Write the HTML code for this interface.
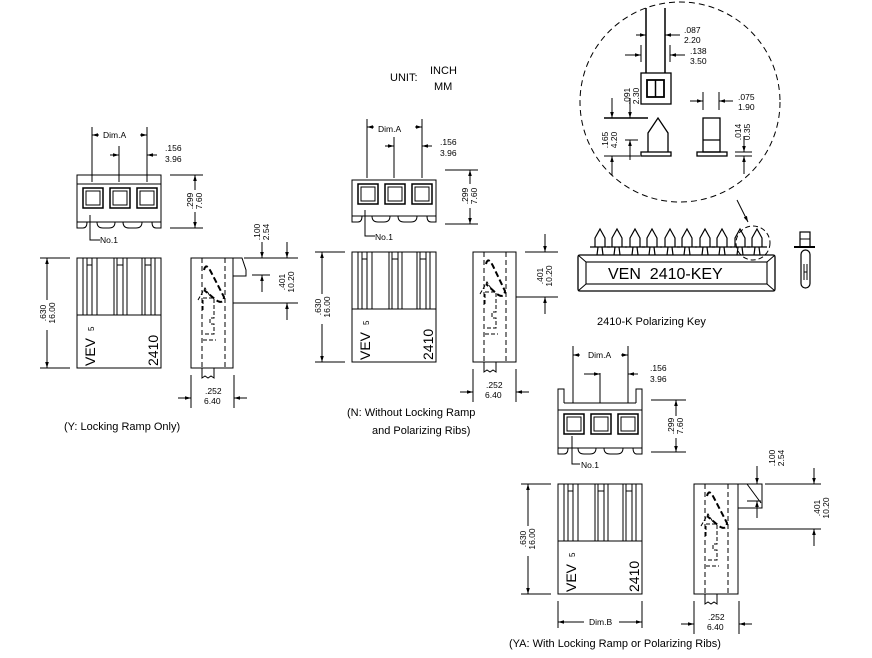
<!DOCTYPE html>
<html><head><meta charset="utf-8"><style>
html,body{margin:0;padding:0;background:#fff}
svg{display:block}
text{font-family:"Liberation Sans",sans-serif;fill:#000}
.d{font-size:8.5px}
</style></head><body>
<svg width="872" height="658" viewBox="0 0 872 658" xmlns="http://www.w3.org/2000/svg">
<defs>
<marker id="a" viewBox="0 0 10 10" refX="10" refY="5" markerWidth="6" markerHeight="6" orient="auto-start-reverse"><path d="M0,2 L10,5 L0,8z" fill="#000"/></marker>
</defs>
<g fill="none" stroke="#000" stroke-width="1">

<g id="s1">
<path d="M77,175 H161 V222 H77 Z"/>
<line x1="77" y1="184" x2="161" y2="184"/>
<path d="M77,222 V228 H83 Q87,228 87,222 M97,222 Q97,228 103,228 H109 Q115,228 115,222 M123,222 Q123,228 129,228 H136 Q142,228 142,222 M152,222 Q152,228 156,228 H161 V222"/>
<rect x="83" y="188" width="20" height="20" stroke-width="1.5"/><rect x="86" y="191" width="14" height="14"/>
<rect x="110" y="188" width="20" height="20" stroke-width="1.5"/><rect x="113" y="191" width="14" height="14"/>
<rect x="137" y="188" width="20" height="20" stroke-width="1.5"/><rect x="140" y="191" width="14" height="14"/>
<line x1="92" y1="127" x2="92" y2="182"/><line x1="119" y1="146" x2="119" y2="182"/><line x1="147" y1="127" x2="147" y2="182"/>
<line x1="92" y1="135" x2="99" y2="135" marker-start="url(#a)"/><line x1="140" y1="135" x2="147" y2="135" marker-end="url(#a)"/>
<line x1="110" y1="155" x2="119" y2="155" marker-end="url(#a)"/><line x1="147" y1="155" x2="157" y2="155" marker-start="url(#a)"/>
<line x1="170" y1="175" x2="203" y2="175"/><line x1="170" y1="228" x2="203" y2="228"/>
<line x1="195" y1="190" x2="195" y2="175" marker-end="url(#a)"/><line x1="195" y1="212" x2="195" y2="228" marker-end="url(#a)"/>
<path d="M90,215 V240 H100"/>
<rect x="77" y="258" width="84" height="110"/>
<line x1="77" y1="315" x2="161" y2="315"/>
<path d="M83,258V315M87,258V315M92,258V315M97,258V315M114,258V315M117,258V315M123,258V315M127,258V315M142,258V315M145,258V315M151,258V315M155,258V315M87,265H92M117,265H123M145,265H151"/>
<line x1="40" y1="258" x2="70" y2="258"/><line x1="40" y1="368" x2="70" y2="368"/>
<line x1="47" y1="300" x2="47" y2="258" marker-end="url(#a)"/><line x1="47" y1="330" x2="47" y2="368" marker-end="url(#a)"/>
<rect x="191" y="258" width="42" height="110"/>
<path d="M233,258 H242 L246,270 L246,276 H233"/>
<line x1="202" y1="258" x2="202" y2="368" stroke-dasharray="5,3"/>
<line x1="225" y1="258" x2="225" y2="368" stroke-dasharray="5,3"/>
<path d="M204,270 Q206,262 211,272 L224,297 Q223,305 216,300 L204,290" stroke-width="2" stroke-dasharray="6,3"/>
<path d="M198,300 L205,288 L210,296 M203,310 V298 H214 V318 H210 V324 H214 V334 H204 M203,340 H216" stroke-width="1" stroke-dasharray="4,2"/>
<path d="M202,368 V378 L205,376 L208,378 L211,376 L214,378 V368"/>
<line x1="244" y1="258" x2="298" y2="258"/><line x1="252" y1="275" x2="270" y2="275"/><line x1="233" y1="303" x2="298" y2="303"/>
<line x1="262" y1="242" x2="262" y2="258" marker-end="url(#a)"/><line x1="262" y1="292" x2="262" y2="275" marker-end="url(#a)"/>
<line x1="287" y1="242" x2="287" y2="258" marker-end="url(#a)"/><line x1="287" y1="320" x2="287" y2="303" marker-end="url(#a)"/>
<line x1="191" y1="375" x2="191" y2="408"/><line x1="234" y1="375" x2="234" y2="408"/>
<line x1="178" y1="398" x2="191" y2="398" marker-end="url(#a)"/><line x1="247" y1="398" x2="234" y2="398" marker-end="url(#a)"/>
</g>

<g transform="translate(275,-6)">
<path d="M77,186 H161 V222 H77 Z"/>
<path d="M77,222 V228 H83 Q87,228 87,222 M97,222 Q97,228 103,228 H109 Q115,228 115,222 M123,222 Q123,228 129,228 H136 Q142,228 142,222 M152,222 Q152,228 156,228 H161 V222"/>
<rect x="83" y="190" width="20" height="20" stroke-width="1.5"/><rect x="86" y="193" width="14" height="14"/>
<rect x="110" y="190" width="20" height="20" stroke-width="1.5"/><rect x="113" y="193" width="14" height="14"/>
<rect x="137" y="190" width="20" height="20" stroke-width="1.5"/><rect x="140" y="193" width="14" height="14"/>
<line x1="92" y1="125" x2="92" y2="184"/><line x1="119" y1="143" x2="119" y2="184"/><line x1="147" y1="125" x2="147" y2="184"/>
<line x1="92" y1="133" x2="99" y2="133" marker-start="url(#a)"/><line x1="140" y1="133" x2="147" y2="133" marker-end="url(#a)"/>
<line x1="110" y1="152" x2="119" y2="152" marker-end="url(#a)"/><line x1="147" y1="152" x2="157" y2="152" marker-start="url(#a)"/>
<line x1="170" y1="176" x2="203" y2="176"/><line x1="170" y1="230" x2="203" y2="230"/>
<line x1="195" y1="190" x2="195" y2="176" marker-end="url(#a)"/><line x1="195" y1="214" x2="195" y2="230" marker-end="url(#a)"/>
<path d="M90,216 V242 H100"/>
<rect x="77" y="258" width="84" height="110"/>
<line x1="77" y1="315" x2="161" y2="315"/>
<path d="M83,258V315M87,258V315M92,258V315M97,258V315M114,258V315M117,258V315M123,258V315M127,258V315M142,258V315M145,258V315M151,258V315M155,258V315M87,265H92M117,265H123M145,265H151"/>
<line x1="40" y1="258" x2="70" y2="258"/><line x1="40" y1="368" x2="70" y2="368"/>
<line x1="47" y1="300" x2="47" y2="258" marker-end="url(#a)"/><line x1="47" y1="330" x2="47" y2="368" marker-end="url(#a)"/>
<rect x="198" y="258" width="43" height="110"/>
<line x1="209" y1="258" x2="209" y2="368" stroke-dasharray="5,3"/>
<line x1="231" y1="258" x2="231" y2="368" stroke-dasharray="5,3"/>
<path d="M211,270 Q213,262 218,272 L230,297 Q229,305 222,300 L211,290" stroke-width="2" stroke-dasharray="6,3"/>
<path d="M205,300 L212,288 L217,296 M210,310 V298 H221 V318 H217 V324 H221 V334 H211 M210,340 H223" stroke-dasharray="4,2"/>
<path d="M209,368 V378 L212,376 L215,378 L218,376 L221,378 V368"/>
<line x1="250" y1="258" x2="283" y2="258"/><line x1="241" y1="303" x2="283" y2="303"/>
<line x1="270" y1="240" x2="270" y2="258" marker-end="url(#a)"/><line x1="270" y1="320" x2="270" y2="303" marker-end="url(#a)"/>
<line x1="198" y1="375" x2="198" y2="408"/><line x1="241" y1="375" x2="241" y2="408"/>
<line x1="185" y1="398" x2="198" y2="398" marker-end="url(#a)"/><line x1="254" y1="398" x2="241" y2="398" marker-end="url(#a)"/>
</g>

<g transform="translate(481,226)">
<path d="M77,184 V163 H83 V177 M155,177 V163 H161 V184"/>
<path d="M77,184 H161 V222 H77 Z"/>
<line x1="83" y1="177" x2="155" y2="177"/>
<path d="M77,222 V228 H83 Q87,228 87,222 M97,222 Q97,228 103,228 H109 Q115,228 115,222 M123,222 Q123,228 129,228 H136 Q142,228 142,222 M152,222 Q152,228 156,228 H161 V222"/>
<rect x="83" y="188" width="20" height="20" stroke-width="1.5"/><rect x="86" y="191" width="14" height="14"/>
<rect x="110" y="188" width="20" height="20" stroke-width="1.5"/><rect x="113" y="191" width="14" height="14"/>
<rect x="137" y="188" width="20" height="20" stroke-width="1.5"/><rect x="140" y="191" width="14" height="14"/>
<line x1="92" y1="120" x2="92" y2="177"/><line x1="119" y1="147" x2="119" y2="177"/><line x1="147" y1="120" x2="147" y2="177"/>
<line x1="92" y1="129" x2="99" y2="129" marker-start="url(#a)"/><line x1="140" y1="129" x2="147" y2="129" marker-end="url(#a)"/>
<line x1="103" y1="148" x2="119" y2="148" marker-end="url(#a)"/><line x1="147" y1="148" x2="157" y2="148" marker-start="url(#a)"/>
<line x1="170" y1="174" x2="205" y2="174"/><line x1="170" y1="226" x2="205" y2="226"/>
<line x1="195" y1="190" x2="195" y2="174" marker-end="url(#a)"/><line x1="195" y1="212" x2="195" y2="226" marker-end="url(#a)"/>
<path d="M91,210 V238 H99"/>
<rect x="77" y="258" width="84" height="110"/>
<line x1="77" y1="315" x2="161" y2="315"/>
<path d="M83,258V315M87,258V315M92,258V315M97,258V315M114,258V315M117,258V315M123,258V315M127,258V315M142,258V315M145,258V315M151,258V315M155,258V315M87,265H92M117,265H123M145,265H151"/>
<line x1="40" y1="258" x2="70" y2="258"/><line x1="40" y1="368" x2="70" y2="368"/>
<line x1="47" y1="300" x2="47" y2="258" marker-end="url(#a)"/><line x1="47" y1="330" x2="47" y2="368" marker-end="url(#a)"/>
<line x1="77" y1="375" x2="77" y2="402"/><line x1="161" y1="375" x2="161" y2="402"/>
<line x1="103" y1="396" x2="77" y2="396" marker-end="url(#a)"/><line x1="138" y1="396" x2="161" y2="396" marker-end="url(#a)"/>
<rect x="213" y="258" width="44" height="110"/>
<path d="M257,258 H281 V282 H257"/><path d="M266,258 L280,277"/>
<line x1="224" y1="258" x2="224" y2="368" stroke-dasharray="5,3"/>
<line x1="247" y1="258" x2="247" y2="368" stroke-dasharray="5,3"/>
<path d="M226,270 Q228,262 233,272 L246,297 Q245,305 238,300 L226,290" stroke-width="2" stroke-dasharray="6,3"/>
<path d="M220,300 L227,288 L232,296 M225,310 V298 H236 V318 H232 V324 H236 V334 H226 M225,340 H238" stroke-dasharray="4,2"/>
<path d="M224,368 V378 L227,376 L230,378 L233,376 L236,378 V368"/>
<line x1="284" y1="258" x2="340" y2="258"/><line x1="266" y1="275" x2="280" y2="275"/><line x1="257" y1="303" x2="340" y2="303"/>
<line x1="276" y1="240" x2="276" y2="258" marker-end="url(#a)"/><line x1="276" y1="292" x2="276" y2="275" marker-end="url(#a)"/>
<line x1="333" y1="242" x2="333" y2="258" marker-end="url(#a)"/><line x1="333" y1="320" x2="333" y2="303" marker-end="url(#a)"/>
<line x1="213" y1="375" x2="213" y2="408"/><line x1="258" y1="375" x2="258" y2="408"/>
<line x1="200" y1="398" x2="213" y2="398" marker-end="url(#a)"/><line x1="271" y1="398" x2="258" y2="398" marker-end="url(#a)"/>
</g>

<circle cx="680" cy="102" r="100" stroke-dasharray="6,4"/>
<circle cx="753" cy="243" r="17" stroke-dasharray="5,3"/>
<line x1="737" y1="200" x2="748" y2="222" marker-end="url(#a)"/>
<line x1="646" y1="8" x2="646" y2="73" stroke-width="1.5"/><line x1="665" y1="8" x2="665" y2="73" stroke-width="1.5"/>
<line x1="636" y1="35" x2="646" y2="35" marker-end="url(#a)"/><line x1="680" y1="35" x2="665" y2="35" marker-end="url(#a)"/>
<line x1="641" y1="45" x2="641" y2="62"/><line x1="670" y1="45" x2="670" y2="62"/>
<line x1="625" y1="55" x2="641" y2="55" marker-end="url(#a)"/><line x1="685" y1="55" x2="670" y2="55" marker-end="url(#a)"/>
<rect x="641" y="73" width="30" height="31" stroke-width="1.3"/>
<rect x="647" y="80" width="17" height="17" stroke-width="1.8"/><line x1="655.5" y1="80" x2="655.5" y2="97" stroke-width="1.5"/>
<line x1="604" y1="118" x2="648" y2="118" stroke-width="1.5"/>
<line x1="612" y1="98" x2="612" y2="118" marker-end="url(#a)"/><line x1="630" y1="98" x2="630" y2="118" marker-end="url(#a)"/>
<line x1="625" y1="140" x2="638" y2="140"/>
<line x1="630" y1="160" x2="630" y2="140" marker-end="url(#a)"/>
<line x1="612" y1="175" x2="612" y2="156" marker-end="url(#a)"/><line x1="604" y1="156" x2="640" y2="156"/>
<path d="M648,152 V133 L658,118 L668,133 V152" stroke-width="1.3"/>
<rect x="641" y="152" width="30" height="4" stroke-width="1.3"/>
<rect x="703" y="118" width="17" height="34" stroke-width="1.3"/><line x1="703" y1="140" x2="720" y2="140" stroke-width="1.3"/>
<rect x="697" y="152" width="30" height="4" stroke-width="1.3"/>
<line x1="703" y1="92" x2="703" y2="110"/><line x1="719" y1="92" x2="719" y2="110"/>
<line x1="690" y1="101" x2="703" y2="101" marker-end="url(#a)"/><line x1="733" y1="101" x2="719" y2="101" marker-end="url(#a)"/>
<line x1="735" y1="152" x2="752" y2="152"/><line x1="735" y1="156" x2="752" y2="156"/>
<line x1="744" y1="136" x2="744" y2="152" marker-end="url(#a)"/><line x1="744" y1="174" x2="744" y2="156" marker-end="url(#a)"/>
<rect x="578" y="255" width="197" height="36" rx="2" stroke-width="1.3"/>
<rect x="586" y="262" width="181" height="22" stroke-width="1.1"/>
<path d="M578,255 L586,262 M775,255 L767,262 M578,291 L586,284 M775,291 L767,284"/>
<g stroke-width="1.2">
<path d="M595,247 V238 L600,229 L605,238 V247 M590,247 H610 M598,247 L597,255 M602,247 L603,255"/>
<path d="M612,247 V238 L617,229 L622,238 V247 M607,247 H627 M615,247 L614,255 M619,247 L620,255"/>
<path d="M630,247 V238 L635,229 L640,238 V247 M625,247 H645 M633,247 L632,255 M637,247 L638,255"/>
<path d="M647,247 V238 L652,229 L657,238 V247 M642,247 H662 M650,247 L649,255 M654,247 L655,255"/>
<path d="M665,247 V238 L670,229 L675,238 V247 M660,247 H680 M668,247 L667,255 M672,247 L673,255"/>
<path d="M682,247 V238 L687,229 L692,238 V247 M677,247 H697 M685,247 L684,255 M689,247 L690,255"/>
<path d="M700,247 V238 L705,229 L710,238 V247 M695,247 H715 M703,247 L702,255 M707,247 L708,255"/>
<path d="M717,247 V238 L722,229 L727,238 V247 M712,247 H732 M720,247 L719,255 M724,247 L725,255"/>
<path d="M735,247 V238 L740,229 L745,238 V247 M730,247 H750 M738,247 L737,255 M742,247 L743,255"/>
<path d="M752,247 V238 L757,229 L762,238 V247 M747,247 H767 M755,247 L754,255 M759,247 L760,255"/>
</g>
<rect x="800" y="232" width="10" height="15" stroke-width="1.2"/><line x1="800" y1="239" x2="810" y2="239"/>
<line x1="794" y1="247" x2="815" y2="247" stroke-width="2"/>
<rect x="801" y="250" width="9" height="38" rx="4.5" stroke-width="1.2"/>
<path d="M804,264 V280 M807,264 V280 M804,272 H807"/>
</g>

<g class="d">
<text x="103" y="138" font-size="8.5">Dim.A</text>
<text x="165" y="151" font-size="8.5">.156</text><text x="165" y="162" font-size="8.5">3.96</text>
<text transform="translate(193,201) rotate(-90)" text-anchor="middle" font-size="8.5">.299</text>
<text transform="translate(202,201) rotate(-90)" text-anchor="middle" font-size="8.5">7.60</text>
<text x="100" y="243" font-size="8.5">No.1</text>
<text transform="translate(46,313) rotate(-90)" text-anchor="middle" font-size="8.5">.630</text>
<text transform="translate(55,313) rotate(-90)" text-anchor="middle" font-size="8.5">16.00</text>
<text transform="translate(260,232) rotate(-90)" text-anchor="middle" font-size="8.5">.100</text>
<text transform="translate(269,232) rotate(-90)" text-anchor="middle" font-size="8.5">2.54</text>
<text transform="translate(285,282) rotate(-90)" text-anchor="middle" font-size="8.5">.401</text>
<text transform="translate(294,282) rotate(-90)" text-anchor="middle" font-size="8.5">10.20</text>
<text x="205" y="394" font-size="8.5">.252</text><text x="204" y="404" font-size="8.5">6.40</text>

<text x="378" y="132" font-size="8.5">Dim.A</text>
<text x="440" y="145" font-size="8.5">.156</text><text x="440" y="156" font-size="8.5">3.96</text>
<text transform="translate(468,196) rotate(-90)" text-anchor="middle" font-size="8.5">.299</text>
<text transform="translate(477,196) rotate(-90)" text-anchor="middle" font-size="8.5">7.60</text>
<text x="375" y="240" font-size="8.5">No.1</text>
<text transform="translate(321,307) rotate(-90)" text-anchor="middle" font-size="8.5">.630</text>
<text transform="translate(330,307) rotate(-90)" text-anchor="middle" font-size="8.5">16.00</text>
<text transform="translate(543,276) rotate(-90)" text-anchor="middle" font-size="8.5">.401</text>
<text transform="translate(552,276) rotate(-90)" text-anchor="middle" font-size="8.5">10.20</text>
<text x="486" y="388" font-size="8.5">.252</text><text x="485" y="398" font-size="8.5">6.40</text>

<text x="588" y="358" font-size="8.5">Dim.A</text>
<text x="650" y="371" font-size="8.5">.156</text><text x="650" y="382" font-size="8.5">3.96</text>
<text transform="translate(674,426) rotate(-90)" text-anchor="middle" font-size="8.5">.299</text>
<text transform="translate(683,426) rotate(-90)" text-anchor="middle" font-size="8.5">7.60</text>
<text x="581" y="468" font-size="8.5">No.1</text>
<text transform="translate(526,539) rotate(-90)" text-anchor="middle" font-size="8.5">.630</text>
<text transform="translate(535,539) rotate(-90)" text-anchor="middle" font-size="8.5">16.00</text>
<text x="589" y="625" font-size="8.5">Dim.B</text>
<text transform="translate(775,458) rotate(-90)" text-anchor="middle" font-size="8.5">.100</text>
<text transform="translate(784,458) rotate(-90)" text-anchor="middle" font-size="8.5">2.54</text>
<text transform="translate(820,508) rotate(-90)" text-anchor="middle" font-size="8.5">.401</text>
<text transform="translate(829,508) rotate(-90)" text-anchor="middle" font-size="8.5">10.20</text>
<text x="708" y="620" font-size="8.5">.252</text><text x="707" y="630" font-size="8.5">6.40</text>

<text x="684" y="33" font-size="8.5">.087</text><text x="684" y="43" font-size="8.5">2.20</text>
<text x="690" y="54" font-size="8.5">.138</text><text x="690" y="64" font-size="8.5">3.50</text>
<text transform="translate(630,96) rotate(-90)" text-anchor="middle" font-size="8.5">.091</text>
<text transform="translate(639,96) rotate(-90)" text-anchor="middle" font-size="8.5">2.30</text>
<text transform="translate(608,140) rotate(-90)" text-anchor="middle" font-size="8.5">.165</text>
<text transform="translate(617,140) rotate(-90)" text-anchor="middle" font-size="8.5">4.20</text>
<text x="738" y="100" font-size="8.5">.075</text><text x="738" y="110" font-size="8.5">1.90</text>
<text transform="translate(741,132) rotate(-90)" text-anchor="middle" font-size="8.5">.014</text>
<text transform="translate(750,132) rotate(-90)" text-anchor="middle" font-size="8.5">0.35</text>
</g>

<g font-size="14">
<text transform="translate(95,366) rotate(-90)">VEV</text>
<text transform="translate(94,331) rotate(-90)" font-size="8">5</text>
<text transform="translate(158,366) rotate(-90)">2410</text>
<text transform="translate(370,360) rotate(-90)">VEV</text>
<text transform="translate(369,325) rotate(-90)" font-size="8">5</text>
<text transform="translate(433,360) rotate(-90)">2410</text>
<text transform="translate(576,592) rotate(-90)">VEV</text>
<text transform="translate(575,557) rotate(-90)" font-size="8">5</text>
<text transform="translate(639,592) rotate(-90)">2410</text>
</g>

<text x="608" y="279" font-size="16">VEN&#160;&#160;2410-KEY</text>
<text x="597" y="325" font-size="11">2410-K Polarizing Key</text>
<text x="390" y="81" font-size="11">UNIT:</text>
<text x="430" y="74" font-size="11">INCH</text>
<text x="434" y="90" font-size="11">MM</text>
<text x="64" y="430" font-size="11">(Y: Locking Ramp Only)</text>
<text x="347" y="416" font-size="11">(N: Without Locking Ramp</text>
<text x="372" y="434" font-size="11">and Polarizing Ribs)</text>
<text x="509" y="647" font-size="11">(YA: With Locking Ramp or Polarizing Ribs)</text>
</svg>
</body></html>
